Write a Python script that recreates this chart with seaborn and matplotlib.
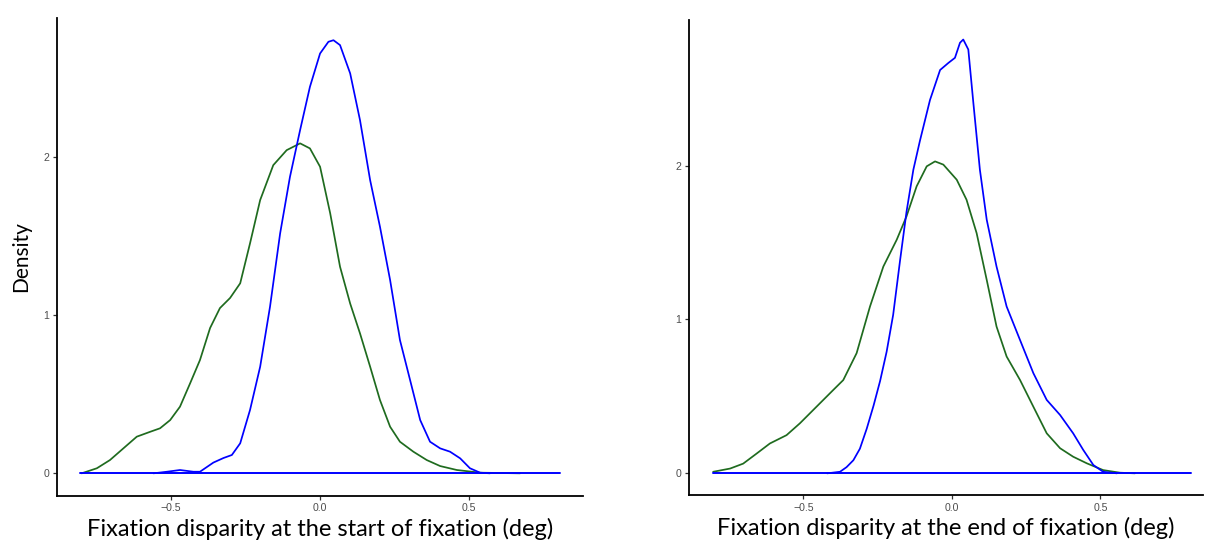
import numpy as np
import pandas as pd
import seaborn as sns
import matplotlib.pyplot as plt

# Density curves (x in deg, y = density)
start_green_x = [-0.800, -0.749, -0.705, -0.660, -0.615, -0.570, -0.537, -0.503, -0.470, -0.436,
                 -0.403, -0.369, -0.336, -0.302, -0.268, -0.235, -0.201, -0.157, -0.112, -0.067,
                 -0.034, 0.000, 0.034, 0.067, 0.101, 0.134, 0.168, 0.201, 0.235, 0.268,
                 0.313, 0.358, 0.403, 0.459, 0.537, 0.671]
start_green_y = [0.0, 0.032, 0.084, 0.158, 0.232, 0.263, 0.285, 0.337, 0.422, 0.570,
                 0.717, 0.920, 1.046, 1.110, 1.203, 1.456, 1.730, 1.951, 2.046, 2.089,
                 2.057, 1.941, 1.646, 1.308, 1.075, 0.886, 0.675, 0.464, 0.295, 0.200,
                 0.137, 0.084, 0.046, 0.021, 0.004, 0.0]
start_blue_x = [-0.559, -0.514, -0.470, -0.425, -0.403, -0.358, -0.324, -0.296, -0.268, -0.235,
                -0.201, -0.168, -0.134, -0.101, -0.067, -0.034, 0.000, 0.028, 0.045, 0.067,
                0.101, 0.134, 0.168, 0.201, 0.235, 0.268, 0.302, 0.336, 0.369, 0.403,
                0.436, 0.470, 0.503, 0.537, 0.570]
start_blue_y = [0.0, 0.010, 0.021, 0.010, 0.010, 0.068, 0.097, 0.116, 0.190, 0.401,
                0.675, 1.054, 1.519, 1.877, 2.173, 2.447, 2.658, 2.732, 2.742, 2.711,
                2.532, 2.236, 1.856, 1.561, 1.224, 0.844, 0.591, 0.337, 0.200, 0.158,
                0.137, 0.095, 0.032, 0.004, 0.0]

end_green_x = [-0.804, -0.747, -0.703, -0.658, -0.613, -0.557, -0.512, -0.456, -0.400, -0.366,
               -0.321, -0.276, -0.231, -0.186, -0.153, -0.119, -0.085, -0.057, -0.029, 0.016,
               0.049, 0.083, 0.117, 0.150, 0.184, 0.229, 0.274, 0.319, 0.364, 0.408,
               0.454, 0.509, 0.566, 0.616]
end_green_y = [0.010, 0.031, 0.063, 0.128, 0.194, 0.248, 0.325, 0.433, 0.541, 0.606,
               0.781, 1.084, 1.344, 1.518, 1.670, 1.865, 1.995, 2.027, 2.006, 1.908,
               1.778, 1.561, 1.257, 0.954, 0.759, 0.607, 0.433, 0.260, 0.163, 0.108,
               0.065, 0.021, 0.004, 0.0]
end_blue_x = [-0.420, -0.377, -0.355, -0.332, -0.310, -0.287, -0.264, -0.242, -0.220, -0.198,
              -0.175, -0.153, -0.130, -0.108, -0.074, -0.040, -0.012, 0.010, 0.027, 0.038,
              0.055, 0.072, 0.094, 0.117, 0.150, 0.184, 0.229, 0.274, 0.319, 0.364,
              0.408, 0.442, 0.476, 0.509, 0.555]
end_blue_y = [0.0, 0.010, 0.040, 0.085, 0.160, 0.290, 0.440, 0.600, 0.790, 1.030,
              1.380, 1.700, 1.973, 2.160, 2.426, 2.621, 2.667, 2.700, 2.798, 2.819,
              2.754, 2.407, 1.973, 1.648, 1.344, 1.084, 0.867, 0.651, 0.477, 0.379,
              0.260, 0.152, 0.054, 0.010, 0.0]

# both curves are drawn over a flat zero line spanning the density grid
baseline_x = [-0.805, 0.805]
baseline_y = [0.0, 0.0]

x_ticks = [-0.5, 0.0, 0.5]
x_tick_labels = ["\u22120.5", "0.0", "0.5"]
y_ticks = [0, 1, 2]
y_tick_labels = ["0", "1", "2"]

panels = [
    ("Fixation disparity at the start of fixation (deg)",
     start_green_x, start_green_y, start_blue_x, start_blue_y,
     [0.0476, 0.0908, 0.4363, 0.876], (-0.8815, 0.8826), (-0.1405, 2.882)),
    ("Fixation disparity at the end of fixation (deg)",
     end_green_x, end_green_y, end_blue_x, end_blue_y,
     [0.5720, 0.0917, 0.4263, 0.8725], (-0.8845, 0.845), (-0.141, 2.949)),
]

GREEN = '#1f6b1f'
BLUE = '#0000ff'

sns.set_style("white")
plt.rcParams['font.family'] = ['Lato', 'DejaVu Sans']

fig = plt.figure(figsize=(12.05, 5.45), dpi=100)

for i, (label, gx, gy, bx, by, rect, xlim, ylim) in enumerate(panels):
    ax = fig.add_axes(rect)
    sns.lineplot(x=gx, y=gy, ax=ax, color=GREEN, linewidth=1.25, sort=False)
    sns.lineplot(x=bx, y=by, ax=ax, color=BLUE, linewidth=1.25, sort=False)
    sns.lineplot(x=baseline_x, y=baseline_y, ax=ax, color=BLUE, linewidth=1.4, sort=False)
    ax.set_xlim(*xlim)
    ax.set_ylim(*ylim)
    ax.set_xticks(x_ticks)
    ax.set_xticklabels(x_tick_labels, family='Liberation Sans')
    ax.set_yticks(y_ticks)
    ax.set_yticklabels(y_tick_labels, family='Liberation Sans')
    ax.tick_params(axis='both', length=3.2, width=0.9, color='#333333',
                   labelsize=7.6, labelcolor='#4d4d4d', pad=2.5, direction='out',
                   bottom=True, left=True)
    for side in ['top', 'right']:
        ax.spines[side].set_visible(False)
    for side in ['left', 'bottom']:
        ax.spines[side].set_color('black')
        ax.spines[side].set_linewidth(1.3)
    ax.set_xlabel(label, fontsize=17, labelpad=3, color='black')
    if i == 0:
        ax.set_ylabel("Density", fontsize=15, labelpad=9, color='black')
    else:
        ax.set_ylabel("")

fig.savefig("out.png", dpi=100, facecolor='white')
